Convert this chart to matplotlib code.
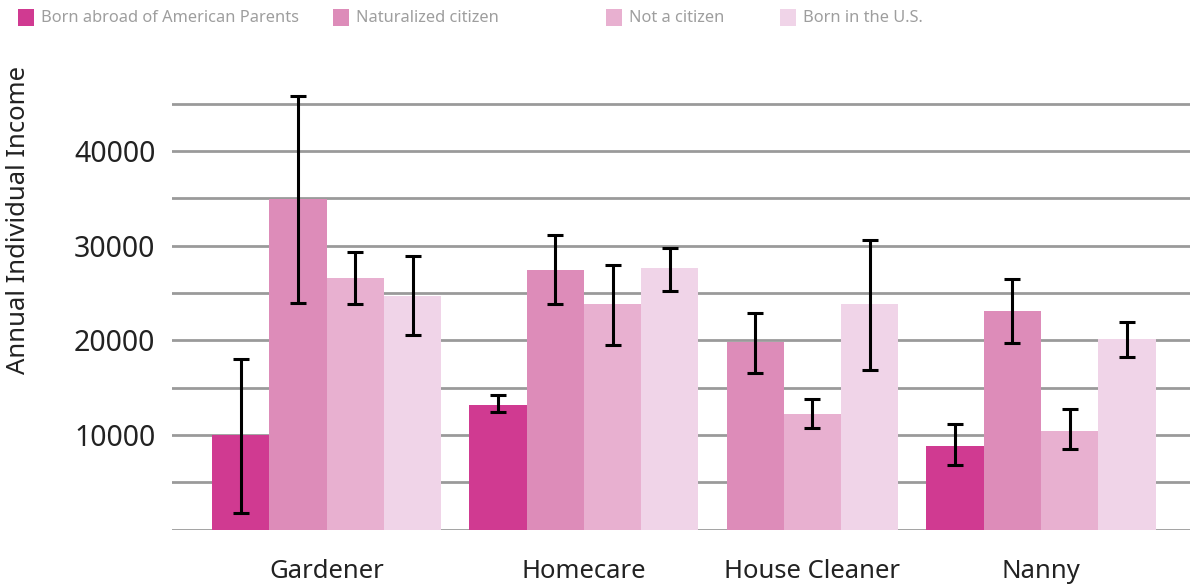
import numpy as np
import matplotlib
matplotlib.use("Agg")
import matplotlib.pyplot as plt
from matplotlib.patches import Rectangle

# Données
categories = ["Gardener", "Homecare", "House Cleaner", "Nanny"]
series = ["Born abroad of American Parents", "Naturalized citizen",
          "Not a citizen", "Born in the U.S."]
colors = ["#D03A91", "#DD8CB9", "#E8B0D0", "#F0D4E8"]

born_abroad = [10000, 13170, np.nan, 8840]
naturalized = [34970, 27460, 19840, 23120]
not_citizen = [26580, 23860, 12220, 10420]
born_us = [24740, 27670, 23860, 20160]

born_abroad_lo = [1750, 12430, np.nan, 6860]
born_abroad_hi = [18000, 14230, np.nan, 11130]
naturalized_lo = [24000, 23860, 16560, 19740]
naturalized_hi = [45870, 31130, 22910, 26510]
not_citizen_lo = [23830, 19520, 10740, 8490]
not_citizen_hi = [29290, 27990, 13810, 12750]
born_us_lo = [20580, 25190, 16880, 18250]
born_us_hi = [28970, 29790, 30630, 21960]

values = [born_abroad, naturalized, not_citizen, born_us]
lows = [born_abroad_lo, naturalized_lo, not_citizen_lo, born_us_lo]
highs = [born_abroad_hi, naturalized_hi, not_citizen_hi, born_us_hi]

plt.rcParams['font.family'] = ['Noto Sans', 'DejaVu Sans']

W, H = 1195, 588
fig = plt.figure(figsize=(W / 100, H / 100), dpi=100)
ax = fig.add_axes([172 / W, 1 - 529.5 / H, 1018 / W, (529.5 - 85) / H])

# Les barres présentes de chaque groupe sont posées côte à côte, puis un écart
bar_w = 1.0
gap = 0.49
x = 0.7
centers = []
for i, cat in enumerate(categories):
    start = x
    for s in range(len(series)):
        v = values[s][i]
        if np.isnan(v):
            continue
        ax.bar(x, v, width=bar_w, align='edge', color=colors[s], zorder=2)
        lo, hi = lows[s][i], highs[s][i]
        ax.errorbar(x + bar_w / 2, v, yerr=[[v - lo], [hi - v]], fmt='none',
                    ecolor='black', elinewidth=2.2, capsize=6, capthick=2.2,
                    zorder=3)
        x += bar_w
    centers.append((start + x) / 2)
    x += gap
x_end = x - gap + 0.6

ax.set_xlim(0, x_end)
ax.set_ylim(0, 47000)

for y in np.arange(0, 45001, 5000):
    ax.axhline(y, color='#9a9a9a', lw=2, zorder=1)

ax.set_yticks([10000, 20000, 30000, 40000])
ax.set_yticklabels(["10000", "20000", "30000", "40000"], fontsize=20.5, color='#222222')
ax.set_xticks(centers)
ax.set_xticklabels(categories, fontsize=18.5, color='#222222')
ax.tick_params(axis='both', length=0)
ax.tick_params(axis='y', pad=12)
ax.tick_params(axis='x', pad=21)
for sp in ax.spines.values():
    sp.set_visible(False)

fig.text(19 / W, 1 - 220 / H, "Annual Individual Income", rotation=90,
         fontsize=18.5, color='#222222', ha='center', va='center')

# Légende en haut, carrés et textes
legend_x = [18, 333, 606, 780]
for lx, c, name in zip(legend_x, colors, series):
    fig.patches.append(Rectangle((lx / W, 1 - 26 / H), 16 / W, 17 / H,
                                 transform=fig.transFigure, facecolor=c,
                                 edgecolor='none'))
    fig.text((lx + 23) / W, 1 - 18 / H, name, fontsize=11.8, color='#9e9e9e',
             ha='left', va='center')

fig.savefig("out.png", dpi=100)
